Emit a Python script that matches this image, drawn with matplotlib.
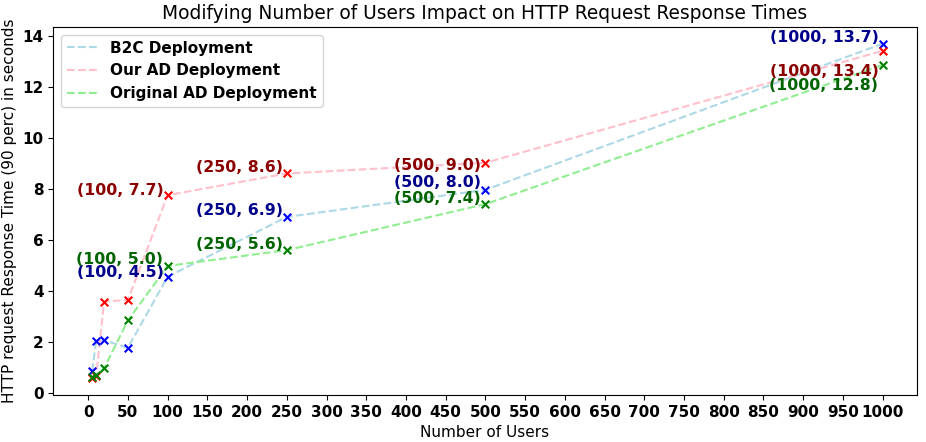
import matplotlib

matplotlib.use("Agg")
import matplotlib.pyplot as plt

users = [5, 10, 20, 50, 100, 250, 500, 1000]
b2c_times = [0.87, 2.04, 2.07, 1.78, 4.56, 6.9, 7.96, 13.68]
our_ad_times = [0.58, 0.68, 3.59, 3.65, 7.75, 8.6, 9.02, 13.4]
orig_ad_times = [0.62, 0.72, 0.98, 2.85, 4.98, 5.6, 7.4, 12.85]

labelled_users = [100, 250, 500, 1000]
b2c_labels = [4.5, 6.9, 8.0, 13.7]
our_ad_labels = [7.7, 8.6, 9.0, 13.4]
orig_ad_labels = [5.0, 5.6, 7.4, 12.8]

# (name, y values, labels, line colour, marker colour, text colour, label y nudges)
series = [
    ("B2C Deployment", b2c_times, b2c_labels, "lightblue", "blue", "darkblue",
     [0, 0, 0, 0]),
    ("Our AD Deployment", our_ad_times, our_ad_labels, "pink", "red", "darkred",
     [0, 0, -0.32, -1.05]),
    ("Original AD Deployment", orig_ad_times, orig_ad_labels, "lightgreen", "green",
     "darkgreen", [0, 0, 0, -1.0]),
]

fig = plt.figure(figsize=(9.26, 4.42), dpi=100)
ax = fig.add_axes([0.0575, 0.106, 0.9325, 0.833])

for name, times, labels, line_c, mark_c, text_c, nudges in series:
    ax.plot(users, times, "--", color=line_c, label=name)
    ax.scatter(users, times, marker="x", color=mark_c, s=30, zorder=3)
    for u, v, dy in zip(labelled_users, labels, nudges):
        ax.annotate(f"({u}, {v})", xy=(u, v + dy), xytext=(-3, -1),
                    textcoords="offset points", ha="right", va="bottom",
                    color=text_c, fontsize=11.3, fontweight="bold")

ax.set_xlim(-44, 1043)
ax.set_xticks(range(0, 1001, 50))
ax.tick_params(labelsize=11)
for lab in ax.get_xticklabels() + ax.get_yticklabels():
    lab.set_fontweight("bold")
ax.set_xlabel("Number of Users", fontsize=11)
ax.set_ylabel("HTTP request Response Time (90 perc) in seconds", fontsize=11)
ax.set_title("Modifying Number of Users Impact on HTTP Request Response Times",
             fontsize=13.4)
ax.legend(loc="upper left", prop={"weight": "bold", "size": 11})

fig.savefig("out.png", dpi=100)
